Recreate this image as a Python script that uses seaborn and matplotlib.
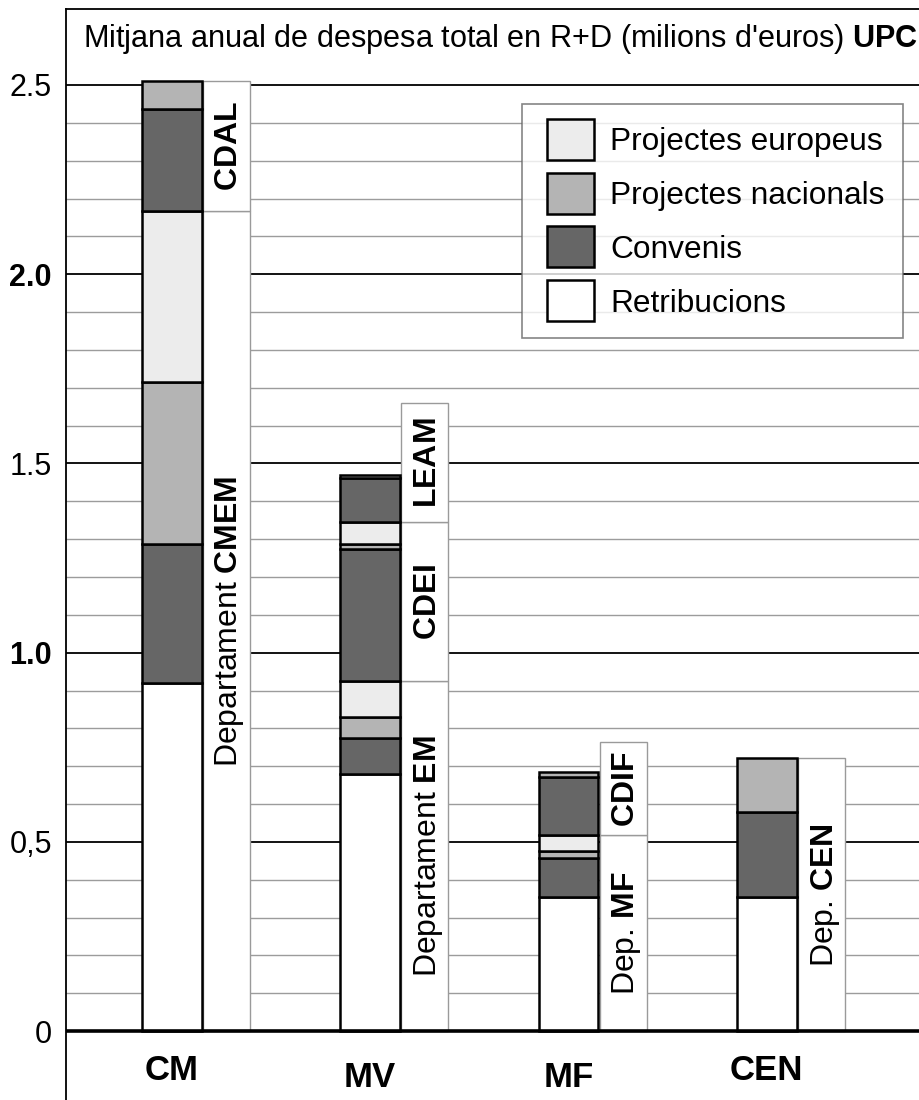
import numpy as np
import matplotlib
matplotlib.use("Agg")
import matplotlib.pyplot as plt
from matplotlib.patches import Patch, Rectangle
from matplotlib.legend_handler import HandlerPatch
from matplotlib.ticker import FixedLocator
import seaborn as sns

# ---------------- data ----------------
categories = ["CM", "MV", "MF", "CEN"]
layer_names = ["Retribucions", "Convenis", "Projectes nacionals", "Projectes europeus"]
layer_colors = ["#ffffff", "#666666", "#b4b4b4", "#ececec"]

dept_category = ["CM", "CM", "MV", "MV", "MV", "MF", "MF", "CEN"]
dept_prefix = ["Departament ", "", "Departament ", "", "", "Dep. ", "", "Dep. "]
dept_name = ["CMEM", "CDAL", "EM", "CDEI", "LEAM", "MF", "CDIF", "CEN"]
retribucions = [0.920, 0.000, 0.680, 0.000, 0.000, 0.354, 0.000, 0.354]
convenis     = [0.367, 0.270, 0.095, 0.350, 0.116, 0.104, 0.154, 0.226]
nacionals    = [0.428, 0.075, 0.055, 0.013, 0.009, 0.018, 0.013, 0.141]
europeus     = [0.451, 0.000, 0.095, 0.057, 0.000, 0.041, 0.000, 0.000]
label_box_top = [2.166, 2.511, 0.925, 1.345, 1.660, 0.517, 0.763, 0.721]

ytick_values = [0, 0.5, 1.0, 1.5, 2.0, 2.5]
ytick_labels = ["0", "0,5", "1.0", "1.5", "2.0", "2.5"]
ytick_bold = [False, False, True, False, True, False]

title_text = "Mitjana anual de despesa total en R+D (milions d'euros) "
title_bold = "UPC"

# ---------------- style ----------------
sns.set_style("white")
plt.rcParams["font.family"] = ["Liberation Sans", "DejaVu Sans"]
plt.rcParams["mathtext.fontset"] = "custom"
plt.rcParams["mathtext.rm"] = "Liberation Sans"
plt.rcParams["mathtext.bf"] = "Liberation Sans:bold"
plt.rcParams["text.color"] = "black"
plt.rcParams["ytick.color"] = "black"
plt.rcParams["ytick.labelcolor"] = "black"

fig = plt.figure(figsize=(9.19, 11.0), dpi=100)
ax = fig.add_axes([65.7 / 919, 0.0, 1 - 65.7 / 919, 1 - 9.3 / 1100])

bar_w = 0.301
box_off = 0.158
box_w = 0.237
layers = [retribucions, convenis, nacionals, europeus]

cum = {c: 0.0 for c in categories}
for d in range(len(dept_name)):
    xi = categories.index(dept_category[d])
    start = cum[dept_category[d]]
    bottom = start
    for li, vals in enumerate(layers):
        v = vals[d]
        if v <= 0:
            continue
        ax.bar(xi, v, bottom=bottom, width=bar_w, color=layer_colors[li],
               edgecolor="black", linewidth=1.8, zorder=3)
        bottom += v
    cum[dept_category[d]] = bottom
    # label box
    top = label_box_top[d]
    ax.bar(xi + box_off, top - start, bottom=start, width=box_w, align="edge",
           color="white", edgecolor="#9a9a9a", linewidth=1.0, zorder=2)
    yc = (start + top) / 2
    lbl = dept_prefix[d] + r"$\mathbf{" + dept_name[d] + "}$"
    ax.text(xi + box_off + box_w / 2 + 0.055, yc, lbl, rotation=90,
            rotation_mode="anchor", ha="center", va="baseline",
            fontsize=23, color="black", zorder=5)

# axes limits and grid
ax.set_xlim(-0.534, 3.767)
ax.set_ylim(-0.182, 2.700)
ax.yaxis.set_major_locator(FixedLocator(ytick_values))
minor = [round(v, 2) for v in np.arange(0.1, 2.5, 0.1) if abs(v * 2 - round(v * 2)) > 1e-6]
ax.yaxis.set_minor_locator(FixedLocator(minor))
ax.set_yticklabels(ytick_labels)
for lab, b in zip(ax.get_yticklabels(), ytick_bold):
    lab.set_fontsize(22)
    lab.set_color("black")
    if b:
        lab.set_fontweight("bold")
ax.tick_params(axis="y", which="both", length=0, pad=10, labelcolor="black")
ax.set_xticks([])
ax.set_axisbelow(True)
ax.grid(which="major", axis="y", color="black", linewidth=1.3)
ax.grid(which="minor", axis="y", color="#9c9c9c", linewidth=1.0)
ax.axhline(0, color="black", linewidth=2.6, zorder=4)

for s in ["right", "bottom"]:
    ax.spines[s].set_visible(False)
for s in ["left", "top"]:
    ax.spines[s].set_color("black")
    ax.spines[s].set_linewidth(1.3)

# category labels
cat_label_y = [-0.130, -0.148, -0.148, -0.130]
for i, c in enumerate(categories):
    ax.text(i, cat_label_y[i], c, ha="center", va="baseline", fontsize=25,
            fontweight="bold", color="black")

# title
ax.text(0.0203, 0.9657, title_text + r"$\mathbf{" + title_bold + "}$",
        transform=ax.transAxes, ha="left", va="baseline", fontsize=22.1, color="black")

# legend
LEG_FS = 22.8
PATCH_W_PT = 47 * 72 / 100.0
PATCH_H_PT = 41 * 72 / 100.0


def make_square(legend, orig_handle, xdescent, ydescent, width, height, fontsize):
    yc = -ydescent + height / 2.0
    return Rectangle((-xdescent + width - PATCH_W_PT, yc - PATCH_H_PT / 2.0),
                     PATCH_W_PT, PATCH_H_PT)


handles = [Patch(facecolor=layer_colors[i], edgecolor="black", linewidth=1.8,
                 label=layer_names[i]) for i in [3, 2, 1, 0]]
leg = ax.legend(handles=handles, loc="upper left",
                bbox_to_anchor=((522 - 65.7) / 853.3, (1100 - 104) / 1090.7),
                bbox_transform=ax.transAxes, borderaxespad=0, fontsize=LEG_FS,
                handlelength=1.68, handleheight=1.2, handletextpad=0.5,
                labelspacing=0.63, borderpad=0.6, frameon=True, fancybox=False,
                handler_map={Patch: HandlerPatch(patch_func=make_square)})
leg.get_frame().set_edgecolor("#666666")
leg.get_frame().set_linewidth(1.2)
leg.set_zorder(10)
for t in leg.get_texts():
    t.set_color("black")

fig.savefig("out.png", dpi=100)
